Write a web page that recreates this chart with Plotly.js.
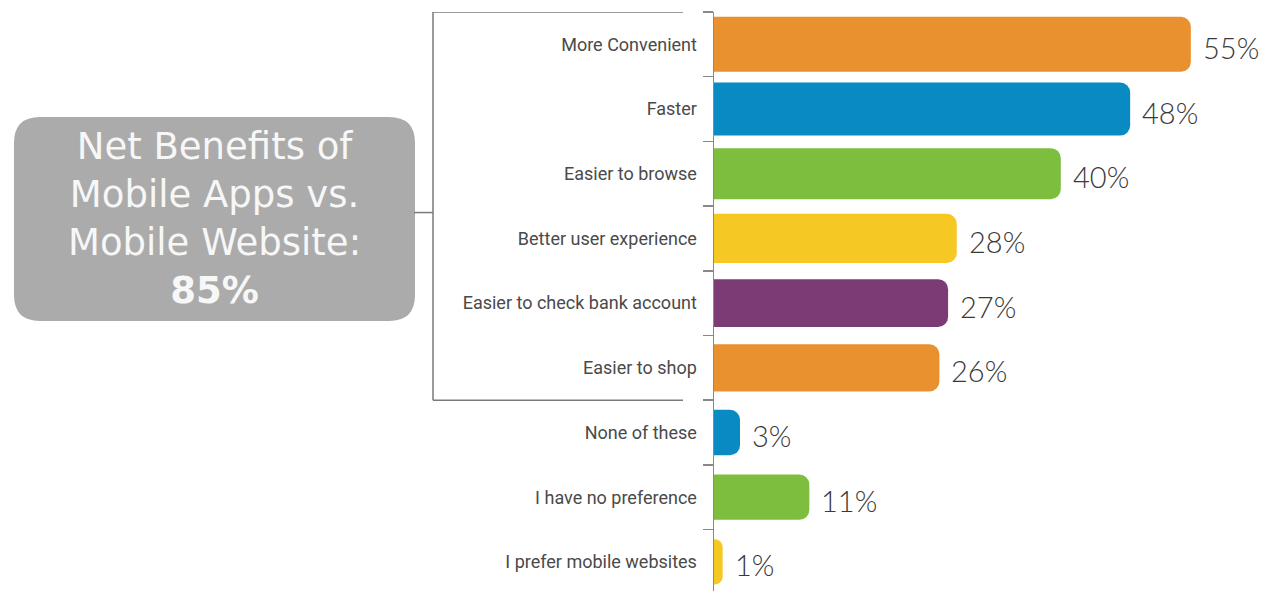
<!DOCTYPE html>
<html>
<head>
<meta charset="utf-8">
<script src="https://cdn.plot.ly/plotly-3.0.1.min.js"></script>
<style>html,body{margin:0;padding:0;background:#fff;}#chart{width:1268px;height:591px;}</style>
</head>
<body>
<div id="chart"></div>
<script>
// ---- data ----
const categories = ["More Convenient", "Faster", "Easier to browse", "Better user experience",
  "Easier to check bank account", "Easier to shop", "None of these", "I have no preference",
  "I prefer mobile websites"];
const values = [55, 48, 40, 28, 27, 26, 3, 11, 1];
const valueLabels = ["55%", "48%", "40%", "28%", "27%", "26%", "3%", "11%", "1%"];
const boxTitle = "Net Benefits of<br>Mobile Apps vs.<br>Mobile Website:<br><b>85%</b>";

// ---- styles ----
const barColors = ["#E8912E", "#0A8AC3", "#7DBE3F", "#F6C824", "#7C3B74", "#E8912E", "#0A8AC3", "#7DBE3F", "#F6C824"];
const barWidths = [0.85, 0.82, 0.79, 0.76, 0.74, 0.73, 0.70, 0.70, 0.70];

const W = 1268, H = 591, L = 714, R = 0, T = 12, B = 0;
const pw = W - L - R, ph = H - T - B;
const px = x => (x - L) / pw;          // pixel x -> paper x
const py = y => 1 - (y - T) / ph;      // pixel y -> paper y

function roundRect(x0, y0, x1, y1, r) {
  const X0 = px(x0), X1 = px(x1), Y0 = py(y0), Y1 = py(y1);
  const rx = r / pw, ry = r / ph;
  return `M ${X0 + rx},${Y0} L ${X1 - rx},${Y0} Q ${X1},${Y0} ${X1},${Y0 - ry} ` +
         `L ${X1},${Y1 + ry} Q ${X1},${Y1} ${X1 - rx},${Y1} L ${X0 + rx},${Y1} ` +
         `Q ${X0},${Y1} ${X0},${Y1 + ry} L ${X0},${Y0 - ry} Q ${X0},${Y0} ${X0 + rx},${Y0} Z`;
}

const lineStyle = {color: "#7a7a7a", width: 1.5};
const shapes = [
  {type: "path", xref: "paper", yref: "paper", path: roundRect(14, 117, 415, 321, 26),
   fillcolor: "#ABABAB", line: {width: 0}, layer: "below"},
  {type: "line", xref: "paper", yref: "y", x0: px(433), x1: px(683), y0: -0.5, y1: -0.5, line: lineStyle},
  {type: "line", xref: "paper", yref: "y", x0: px(433), x1: px(683), y0: 5.5, y1: 5.5, line: lineStyle},
  {type: "line", xref: "paper", yref: "y", x0: px(433), x1: px(433), y0: -0.5, y1: 5.5, line: lineStyle},
  {type: "line", xref: "paper", yref: "y", x0: px(414), x1: px(433), y0: 2.6, y1: 2.6, line: lineStyle}
];

const annotations = categories.map((c, i) => ({
  x: values[i], y: c, xref: "x", yref: "y", text: valueLabels[i], showarrow: false,
  xanchor: "left", yanchor: "middle", xshift: 10, yshift: -3,
  font: {family: "Lato, 'Open Sans', sans-serif", size: 29, color: "#3a3a3a", weight: 300}
}));
annotations.push({
  xref: "paper", yref: "paper", x: px(214.5), y: py(219), text: boxTitle, showarrow: false,
  xanchor: "center", yanchor: "middle", align: "center",
  font: {family: "'DejaVu Sans', sans-serif", size: 37, color: "#F7F7F7"}
});

const trace = {
  type: "bar", orientation: "h", x: values, y: categories,
  width: barWidths,
  marker: {color: barColors, cornerradius: 10, line: {width: 0}},
  hoverinfo: "none"
};

const layout = {
  width: W, height: H,
  margin: {l: L, r: R, t: T, b: B},
  paper_bgcolor: "#ffffff", plot_bgcolor: "#ffffff",
  showlegend: false,
  xaxis: {range: [0, pw / 8.67], visible: false, fixedrange: true},
  yaxis: {
    type: "category", range: [8.45, -0.5], tickson: "boundaries",
    ticks: "outside", ticklen: 10, tickwidth: 1.5, tickcolor: "#888",
    showline: true, linecolor: "#8a8a8a", linewidth: 1.5, showgrid: false, zeroline: false,
    ticklabelstandoff: 12,
    tickfont: {family: "Roboto, sans-serif", size: 18, color: "#4a4a4a"},
    fixedrange: true
  },
  shapes: shapes,
  annotations: annotations
};

Plotly.newPlot("chart", [trace], layout, {displayModeBar: false, staticPlot: true});
</script>
</body>
</html>
